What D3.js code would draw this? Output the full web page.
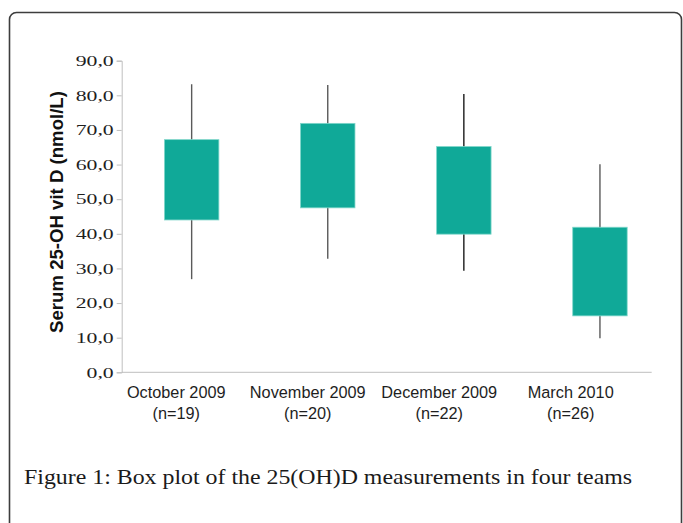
<!DOCTYPE html>
<html>
<head>
<meta charset="utf-8">
<script src="https://cdn.jsdelivr.net/npm/d3@7/dist/d3.min.js"></script>
<style>
  html, body { margin: 0; padding: 0; background: #fff; }
  svg { display: block; }
</style>
</head>
<body>
<svg id="chart" width="683" height="523"></svg>
<script>
// ---- data ----
const categories = ["October 2009", "November 2009", "December 2009", "March 2010"];
const counts = ["(n=19)", "(n=20)", "(n=22)", "(n=26)"];
const whiskerMin = [26.9, 32.8, 29.3, 9.8];
const boxLow    = [44.0, 47.5, 39.9, 16.3];
const boxHigh   = [67.2, 71.9, 65.2, 41.9];
const whiskerMax = [83.2, 83.0, 80.4, 60.1];
const yTicks = [0, 10, 20, 30, 40, 50, 60, 70, 80, 90];
const yTitle = "Serum 25-OH vit D (nmol/L)";
const caption = "Figure 1: Box plot of the 25(OH)D measurements in four teams";

// ---- styles ----
const boxFill = "#10a998";
const boxStroke = "#7fd6ca";
const whiskerColors = ["#5a5a5a", "#5a5a5a", "#1a1a1a", "#5a5a5a"];
const axisColor = "#bfbfbf";

const svg = d3.select("#chart");

// frame
svg.append("rect")
  .attr("x", 9.5).attr("y", 12.5)
  .attr("width", 672).attr("height", 540)
  .attr("rx", 7).attr("ry", 7)
  .attr("fill", "none").attr("stroke", "#3d3d3d").attr("stroke-width", 1.6);

// scales
const y = d3.scaleLinear().domain([0, 90]).range([372.3, 60.7]);
const xBox = d3.scaleBand().domain(categories).range([123.6, 668]).padding(0);
const xLab = d3.scaleBand().domain(categories).range([110.5, 636.5]).padding(0);
const axisX0 = 121.7, axisX1 = 651.7;

// y axis
const yAxis = d3.axisLeft(y).tickValues(yTicks).tickSize(5).tickPadding(3)
  .tickFormat(d => d3.format(".1f")(d).replace(".", ","));
const gy = svg.append("g").attr("transform", `translate(${axisX0},0)`).call(yAxis);
gy.select(".domain").attr("stroke", axisColor);
gy.selectAll(".tick line").attr("stroke", axisColor);
gy.selectAll(".tick text")
  .attr("x", 0)
  .attr("transform", "translate(-8,0) scale(1.45,1)")
  .attr("fill", "#1e1e1e")
  .style("font-family", "'Liberation Serif', 'Times New Roman', serif")
  .style("font-size", "15px");

// x axis line
svg.append("line")
  .attr("x1", axisX0).attr("x2", axisX1)
  .attr("y1", y(0)).attr("y2", y(0))
  .attr("stroke", axisColor).attr("stroke-width", 1);

// whiskers
const bw = xBox.bandwidth();
svg.append("g").selectAll("line").data(categories).join("line")
  .attr("x1", d => xBox(d) + bw / 2).attr("x2", d => xBox(d) + bw / 2)
  .attr("y1", (d, i) => y(whiskerMax[i]))
  .attr("y2", (d, i) => y(whiskerMin[i]))
  .attr("stroke", (d, i) => whiskerColors[i])
  .attr("stroke-width", 1.4);

// boxes
const boxW = bw * 0.4;
svg.append("g").selectAll("rect").data(categories).join("rect")
  .attr("x", d => xBox(d) + bw / 2 - boxW / 2)
  .attr("width", boxW)
  .attr("y", (d, i) => y(boxHigh[i]))
  .attr("height", (d, i) => y(boxLow[i]) - y(boxHigh[i]))
  .attr("fill", boxFill)
  .attr("stroke", boxStroke).attr("stroke-width", 0.8);

// x labels
const lab = svg.append("g")
  .style("font-family", "'Liberation Sans', Arial, sans-serif")
  .style("font-size", "16.3px")
  .attr("fill", "#1e1e1e")
  .attr("text-anchor", "middle");
lab.selectAll("text.cat").data(categories).join("text").attr("class", "cat")
  .attr("x", d => xLab(d) + xLab.bandwidth() / 2)
  .attr("y", 397.5)
  .text(d => d);
lab.selectAll("text.n").data(categories).join("text").attr("class", "n")
  .attr("x", d => xLab(d) + xLab.bandwidth() / 2)
  .attr("y", 419)
  .text((d, i) => counts[i]);

// y title
svg.append("text")
  .attr("transform", "translate(63,212) rotate(-90)")
  .attr("text-anchor", "middle")
  .style("font-family", "'Liberation Sans', Arial, sans-serif")
  .style("font-size", "18.6px")
  .style("font-weight", "bold")
  .attr("fill", "#111")
  .text(yTitle);

// caption
svg.append("text")
  .attr("transform", "translate(24,484) scale(1.085,1)")
  .style("font-family", "'Liberation Serif', 'Times New Roman', serif")
  .style("font-size", "22px")
  .attr("fill", "#1a1a1a")
  .text(caption);
</script>
</body>
</html>
